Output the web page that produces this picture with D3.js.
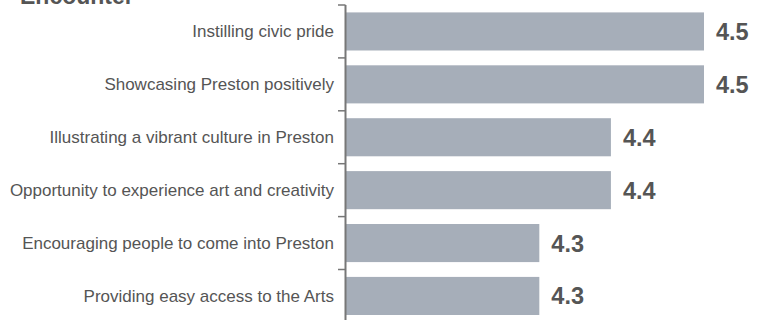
<!DOCTYPE html>
<html>
<head>
<meta charset="utf-8">
<script src="https://cdn.jsdelivr.net/npm/d3@7"></script>
<style>
  html, body { margin: 0; padding: 0; background: #fff; }
  svg { display: block; }
</style>
</head>
<body>
<svg id="chart" width="766" height="320"></svg>
<script>
// Mean agreement scores for the Encounter festival outcomes
const categories = [
  "Instilling civic pride",
  "Showcasing Preston positively",
  "Illustrating a vibrant culture in Preston",
  "Opportunity to experience art and creativity",
  "Encouraging people to come into Preston",
  "Providing easy access to the Arts"
];
const scores = [4.50, 4.50, 4.37, 4.37, 4.27, 4.27];
const title = "Encounter";

const svg = d3.select("#chart");
const fontFamily = "'Liberation Sans', Arial, Helvetica, sans-serif";
const textColor = "#555555";

const x = d3.scaleLinear().domain([4, 4.6]).range([346, 775.6]);
const y = d3.scaleBand()
  .domain(categories)
  .range([5, 322.4])
  .paddingInner(0.28)
  .paddingOuter(0.14);

// Title
svg.append("text")
  .attr("x", 20)
  .attr("y", 4)
  .attr("font-family", fontFamily)
  .attr("font-weight", "bold")
  .attr("font-size", 23)
  .attr("fill", textColor)
  .text(title);

// Bars
svg.append("g").selectAll("rect")
  .data(categories)
  .join("rect")
  .attr("x", x(4))
  .attr("y", d => y(d))
  .attr("width", (d, i) => x(scores[i]) - x(4))
  .attr("height", y.bandwidth())
  .attr("fill", "#a6aeb9");

// Value labels
svg.append("g").selectAll("text")
  .data(categories)
  .join("text")
  .attr("x", (d, i) => x(scores[i]) + 12)
  .attr("y", d => y(d) + y.bandwidth() / 2)
  .attr("dy", "0.36em")
  .attr("font-family", fontFamily)
  .attr("font-weight", "bold")
  .attr("font-size", 23.5)
  .attr("fill", textColor)
  .text((d, i) => d3.format(".1f")(scores[i]));

// Category axis with ticks between bands
const axisX = 345.5;
const gap = y.step() * y.paddingInner() / 2;
const boundaries = categories.map(d => y(d) - gap).concat([y(categories[categories.length - 1]) + y.bandwidth() + gap]);
const axis = svg.append("g");
axis.append("line")
  .attr("x1", axisX).attr("x2", axisX)
  .attr("y1", boundaries[0]).attr("y2", 320)
  .attr("stroke", "#777")
  .attr("stroke-width", 2);
axis.selectAll("line.tick")
  .data(boundaries)
  .join("line")
  .attr("class", "tick")
  .attr("x1", 338).attr("x2", axisX)
  .attr("y1", d => d).attr("y2", d => d)
  .attr("stroke", "#777")
  .attr("stroke-width", 1.5);

// Category labels
axis.selectAll("text")
  .data(categories)
  .join("text")
  .attr("x", 334)
  .attr("y", d => y(d) + y.bandwidth() / 2)
  .attr("dy", "0.35em")
  .attr("text-anchor", "end")
  .attr("font-family", fontFamily)
  .attr("font-size", 17)
  .attr("fill", textColor)
  .text(d => d);
</script>
</body>
</html>
